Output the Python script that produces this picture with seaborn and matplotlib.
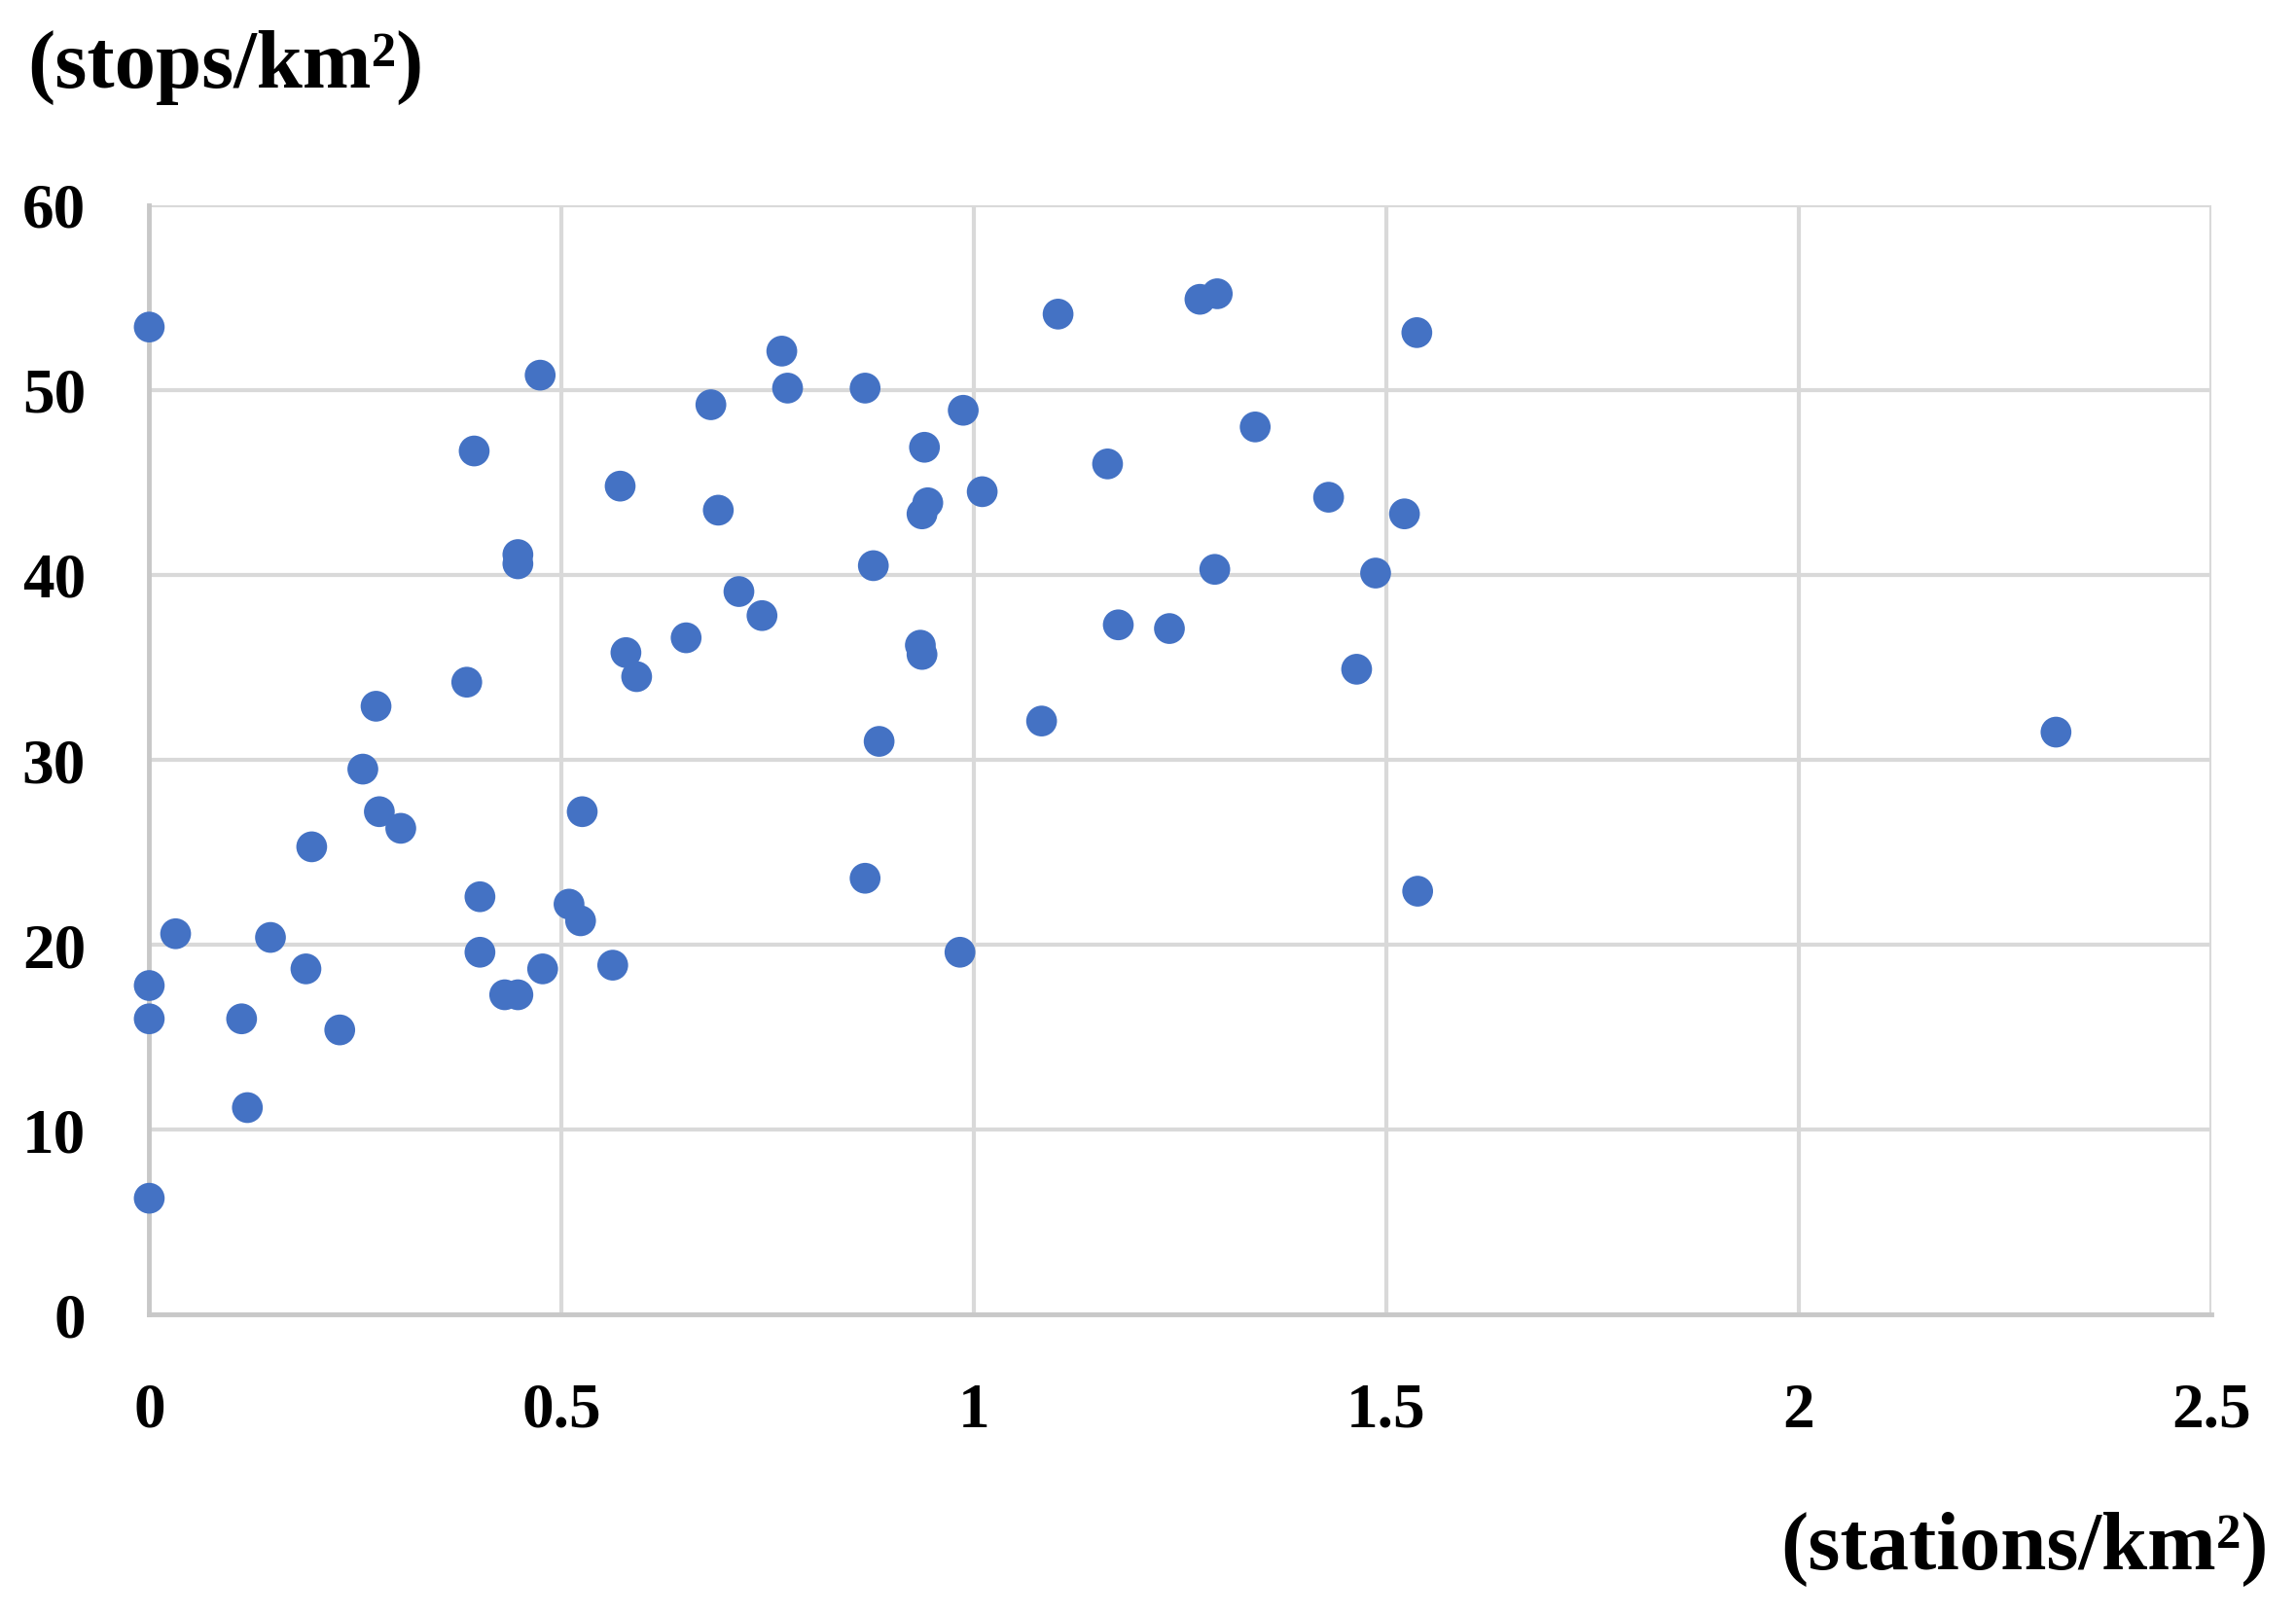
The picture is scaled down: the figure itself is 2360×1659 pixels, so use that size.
import numpy as np
import pandas as pd
import matplotlib
matplotlib.use("Agg")
import matplotlib.pyplot as plt
import seaborn as sns

# station density (stations/km2) and stop density (stops/km2)
stations = [0.0, 0.0, 0.0, 0.0, 0.032, 0.112, 0.119, 0.147, 0.19, 0.197,
            0.231, 0.259, 0.275, 0.279, 0.305, 0.385, 0.394, 0.401, 0.401, 0.431,
            0.447, 0.447, 0.447, 0.474, 0.477, 0.509, 0.523, 0.525, 0.562, 0.571,
            0.578, 0.591, 0.651, 0.681, 0.690, 0.715, 0.743, 0.767, 0.774, 0.868,
            0.868, 0.878, 0.885, 0.935, 0.937, 0.940, 0.937, 0.944, 0.983, 0.987,
            1.010, 1.082, 1.102, 1.162, 1.175, 1.237, 1.274, 1.295, 1.292, 1.341,
            1.430, 1.464, 1.487, 1.522, 1.537, 1.538, 2.312]
stops = [53.4, 17.8, 16.0, 6.3, 20.6, 16.0, 11.2, 20.4, 18.7, 25.3,
         15.4, 29.5, 32.9, 27.2, 26.3, 34.2, 46.7, 22.6, 19.6, 17.3,
         17.3, 41.1, 40.6, 50.8, 18.7, 22.2, 21.3, 27.2, 18.9, 44.8,
         35.8, 34.5, 36.6, 49.2, 43.5, 39.1, 37.8, 52.1, 50.1, 50.1,
         23.6, 40.5, 31.0, 36.2, 35.7, 46.9, 43.3, 43.9, 19.6, 48.9,
         44.5, 32.1, 54.1, 46.0, 37.3, 37.1, 54.9, 55.2, 40.3, 48.0,
         44.2, 34.9, 40.1, 43.3, 53.1, 22.9, 31.5]

x_ticks = [0, 0.5, 1, 1.5, 2, 2.5]
x_labels = ['0', '0.5', '1', '1.5', '2', '2.5']
y_ticks = [0, 10, 20, 30, 40, 50, 60]

df = pd.DataFrame({'stations': stations, 'stops': stops})

sns.set_style('white')
plt.rcParams['font.family'] = ['Liberation Serif', 'DejaVu Serif']

fig = plt.figure(figsize=(23.6, 16.59), dpi=100)
ax = fig.add_axes([0.065, 0.1854, 0.898, 0.6876])

sns.scatterplot(data=df, x='stations', y='stops', ax=ax, color='#4472C4',
                s=520, edgecolor='none', zorder=3, clip_on=False)

ax.set_xlim(0, 2.5)
ax.set_ylim(0, 60)
ax.set_xticks(x_ticks)
ax.set_xticklabels(x_labels)
ax.set_yticks(y_ticks)
ax.grid(True, color='#D9D9D9', linewidth=3)
for side in ['top', 'right']:
    ax.spines[side].set_visible(False)
for side in ['left', 'bottom']:
    ax.spines[side].set_color('#C8C8C8')
    ax.spines[side].set_linewidth(3.5)
ax.tick_params(axis='both', length=0, labelsize=47, labelcolor='black')
ax.tick_params(axis='x', pad=50)
ax.tick_params(axis='y', pad=47)
for lab in ax.get_xticklabels() + ax.get_yticklabels():
    lab.set_fontweight('bold')

ax.set_xlabel('')
ax.set_ylabel('')
fig.text(0.012, 0.958, '(stops/km²)', fontsize=61, fontweight='bold',
         ha='left', va='center', color='black')
fig.text(0.988, 0.04, '(stations/km²)', fontsize=61, fontweight='bold',
         ha='right', va='center', color='black')

fig.savefig('out.png', dpi=100, facecolor='white')
